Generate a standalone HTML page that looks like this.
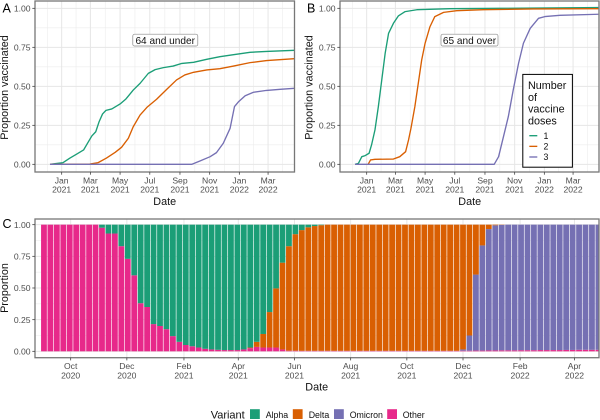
<!DOCTYPE html>
<html>
<head>
<meta charset="utf-8">
<style>
html,body{margin:0;padding:0;background:#fff;}
svg{display:block;font-family:"Liberation Sans",sans-serif;}
</style>
</head>
<body>
<svg id="fig" xmlns="http://www.w3.org/2000/svg" width="600" height="420" viewBox="0 0 600 420"></svg>
<script>
// ---- tick data ----
const lineTickDays = [0, 59, 120, 181, 243, 304, 365, 424];
const lineTickMonths = ["Jan", "Mar", "May", "Jul", "Sep", "Nov", "Jan", "Mar"];
const lineTickYears = ["2021", "2021", "2021", "2021", "2021", "2021", "2022", "2022"];
const barTickDays = [-92, -31, 31, 90, 151, 212, 273, 334, 396, 455];
const barTickMonths = ["Oct", "Dec", "Feb", "Apr", "Jun", "Aug", "Oct", "Dec", "Feb", "Apr"];
const barTickYears = ["2020", "2020", "2021", "2021", "2021", "2021", "2021", "2021", "2022", "2022"];
const yTicks = [0, 0.25, 0.5, 0.75, 1];
const yTickLabels = ["0.00", "0.25", "0.50", "0.75", "1.00"];
const yMinorTicks = [0.125, 0.375, 0.625, 0.875];

// ---- panel A (64 and under), days since 2021-01-01 ----
const a1Days = [-24, 3, 17, 31, 45, 55, 62, 70, 77, 84, 91, 103, 120, 132, 147, 161, 178, 192, 209, 229, 247, 271, 298, 325, 353, 387, 421, 478];
const a1Values = [0, 0.011, 0.04, 0.066, 0.092, 0.145, 0.182, 0.209, 0.274, 0.323, 0.346, 0.355, 0.387, 0.419, 0.476, 0.519, 0.583, 0.607, 0.62, 0.63, 0.647, 0.654, 0.673, 0.69, 0.703, 0.718, 0.724, 0.731];
const a2Days = [-24, 58, 75, 92, 110, 123, 137, 147, 161, 175, 195, 216, 236, 253, 271, 298, 325, 353, 387, 421, 478];
const a2Values = [0, 0.002, 0.011, 0.04, 0.077, 0.109, 0.167, 0.241, 0.316, 0.365, 0.417, 0.481, 0.541, 0.573, 0.59, 0.605, 0.613, 0.63, 0.652, 0.665, 0.677];
const a3Days = [-24, 267, 284, 305, 318, 332, 346, 355, 363, 377, 394, 421, 449, 478];
const a3Values = [0, 0, 0.021, 0.049, 0.075, 0.135, 0.231, 0.37, 0.4, 0.44, 0.462, 0.474, 0.481, 0.487];

// ---- panel B (65 and over) ----
const b1Days = [-24, -17, -10, -3, 5, 10, 17, 24, 31, 38, 45, 55, 65, 79, 103, 171, 274, 476];
const b1Values = [0, 0.006, 0.049, 0.056, 0.071, 0.124, 0.22, 0.37, 0.541, 0.712, 0.84, 0.904, 0.951, 0.979, 0.991, 0.998, 1.0, 1.005];
const b2Days = [3, 8, 17, 55, 68, 80, 86, 91, 99, 106, 113, 120, 130, 140, 158, 185, 240, 342, 476];
const b2Values = [0, 0.028, 0.032, 0.034, 0.049, 0.081, 0.156, 0.231, 0.37, 0.519, 0.669, 0.776, 0.882, 0.947, 0.974, 0.985, 0.991, 0.996, 0.998];
const b3Days = [-24, 262, 271, 281, 291, 301, 312, 322, 336, 353, 366, 397, 476];
const b3Values = [0, 0, 0.049, 0.177, 0.306, 0.476, 0.647, 0.776, 0.872, 0.936, 0.947, 0.955, 0.962];

// ---- panel C weekly variant proportions ----
const weekDays = [-121,-114,-107,-100,-93,-86,-79,-72,-65,-58,-51,-44,-37,-30,-23,-16,-9,-2,5,12,19,26,33,40,47,54,61,68,75,82,89,96,103,110,117,124,131,138,145,152,159,166,173,180,187,194,201,208,215,222,229,236,243,250,257,264,271,278,285,292,299,306,313,320,327,334,341,348,355,362,369,376,383,390,397,404,411,418,425,432,439,446,453,460,467,474,481];
const otherShare = [1,1,1,1,1,1,1,1,1,0.976,0.93,0.93,0.83,0.73,0.6,0.38,0.35,0.215,0.2,0.175,0.12,0.075,0.05,0.04,0.03,0.02,0.015,0.012,0.01,0.01,0.01,0.015,0.025,0.035,0.03,0.03,0.03,0.015,0.005,0.005,0.004,0.004,0.004,0.004,0.004,0.004,0.004,0.004,0.004,0.004,0.004,0.004,0.004,0.004,0.004,0.004,0.004,0.004,0.004,0.004,0.004,0.004,0.004,0.004,0.004,0.005,0.005,0.006,0.006,0.007,0.007,0.008,0.008,0.008,0.009,0.009,0.009,0.01,0.01,0.01,0.01,0.011,0.011,0.012,0.012,0.012,0.012];
const omicronShare = [0,0,0,0,0,0,0,0,0,0,0,0,0,0,0,0,0,0,0,0,0,0,0,0,0,0,0,0,0,0,0,0,0,0,0,0,0,0,0,0,0,0,0,0,0,0,0,0,0,0,0,0,0,0,0,0,0,0,0,0,0,0,0,0,0,0.01,0.12,0.6,0.83,0.958,0.988,0.99,0.992,0.992,0.991,0.991,0.991,0.99,0.99,0.99,0.99,0.989,0.989,0.988,0.988,0.988,0.988];
const deltaShare = [0,0,0,0,0,0,0,0,0,0,0,0,0,0,0,0,0,0,0,0,0,0,0,0,0,0,0,0,0,0,0,0,0.005,0.04,0.107,0.28,0.467,0.685,0.825,0.92,0.953,0.975,0.985,0.992,0.996,0.996,0.996,0.996,0.996,0.996,0.996,0.996,0.996,0.996,0.996,0.996,0.996,0.996,0.996,0.996,0.996,0.996,0.996,0.996,0.996,0.985,0.875,0.394,0.164,0.035,0.005,0.002,0,0,0,0,0,0,0,0,0,0,0,0,0,0,0];
const alphaShare = [0,0,0,0,0,0,0,0,0,0.024,0.07,0.07,0.17,0.27,0.4,0.62,0.65,0.785,0.8,0.825,0.88,0.925,0.95,0.96,0.97,0.98,0.985,0.988,0.99,0.99,0.99,0.985,0.97,0.925,0.863,0.69,0.503,0.3,0.17,0.075,0.043,0.021,0.011,0.004,0,0,0,0,0,0,0,0,0,0,0,0,0,0,0,0,0,0,0,0,0,0,0,0,0,0,0,0,0,0,0,0,0,0,0,0,0,0,0,0,0,0,0];

// ---- legend entries ----
const doseLabels = ["1", "2", "3"];
const variantNames = ["Alpha", "Delta", "Omicron", "Other"];

// ---- colours ----
const GREEN = "#1B9E77", ORANGE = "#D95F02", PURPLE = "#7570B3", PINK = "#E7298A";

const svg = document.getElementById("fig");
const NS = "http://www.w3.org/2000/svg";
function mk(tag, attrs, parent, text) {
  const el = document.createElementNS(NS, tag);
  for (const k in attrs) el.setAttribute(k, attrs[k]);
  if (text !== undefined) el.textContent = text;
  (parent || svg).appendChild(el);
  return el;
}
function label(name, x, y, str, size, fill, anchor, parent) {
  const el = mk("text", {x: x, y: y, "font-size": size, fill: fill, "text-anchor": anchor || "middle"}, parent, str);
  
  
  return el;
}

// ---- axis functions ----
const lineSlope = 0.4868;
const lineY = v => 164.33 - 156 * v;
const barX = d => 155.4 + 0.921 * d;
const barY = v => 351.33 - 126.67 * v;

function panelFrame(name, box, xMajor, xMinor, yFn) {
  const g = mk("g", {});
  
  
  mk("rect", {x: box.l, y: box.t, width: box.r - box.l, height: box.b - box.t, fill: "#fff"}, g);
  xMinor.forEach(x => mk("line", {x1: x, x2: x, y1: box.t, y2: box.b, stroke: "#ececec", "stroke-width": 0.6}, g));
  yMinorTicks.forEach(v => mk("line", {x1: box.l, x2: box.r, y1: yFn(v), y2: yFn(v), stroke: "#ececec", "stroke-width": 0.6}, g));
  xMajor.forEach(x => mk("line", {x1: x, x2: x, y1: box.t, y2: box.b, stroke: "#e6e6e6", "stroke-width": 1}, g));
  yTicks.forEach(v => mk("line", {x1: box.l, x2: box.r, y1: yFn(v), y2: yFn(v), stroke: "#e6e6e6", "stroke-width": 1}, g));
  const clip = mk("clipPath", {id: name + "-clip"});
  mk("rect", {x: box.l, y: box.t, width: box.r - box.l, height: box.b - box.t}, clip);
}
function panelBorder(name, box) {
  const el = mk("rect", {x: box.l, y: box.t, width: box.r - box.l, height: box.b - box.t, fill: "none", stroke: "#777", "stroke-width": 1.3});
  
  
}
function yAxis(name, box, yFn) {
  yTicks.forEach((v, i) => {
    const t = mk("line", {x1: box.l - 2.7, x2: box.l, y1: yFn(v), y2: yFn(v), stroke: "#444", "stroke-width": 0.8});
    
    
    label(name + '-y-tick-label', box.l - 4.4, yFn(v) + 3.1, yTickLabels[i], 8.6, "#4d4d4d", "end");
  });
}
function xAxis(name, box, xs, months, years, y1, y2) {
  xs.forEach((x, i) => {
    const t = mk("line", {x1: x, x2: x, y1: box.b, y2: box.b + 2.7, stroke: "#444", "stroke-width": 0.8});
    
    
    label(name + '-x-tick-month', x, y1, months[i], 8.6, "#4d4d4d");
    label(name + '-x-tick-year', x, y2, years[i], 8.6, "#4d4d4d");
  });
}
function minorOf(xs, l, r) {
  const out = [];
  for (let i = 0; i < xs.length - 1; i++) out.push((xs[i] + xs[i + 1]) / 2);
  const first = xs[0] - (xs[1] - xs[0]) / 2;
  const last = xs[xs.length - 1] + (xs[xs.length - 1] - xs[xs.length - 2]) / 2;
  if (first > l) out.push(first);
  if (last < r) out.push(last);
  return out;
}
function drawLine(name, panel, xFn, days, values, color) {
  const pts = days.map((d, i) => xFn(d).toFixed(2) + "," + lineY(values[i]).toFixed(2)).join(" ");
  const el = mk("polyline", {points: pts, fill: "none", stroke: color, "stroke-width": 1.35, "stroke-linejoin": "round", "clip-path": "url(#" + panel + "-clip)"});
  
  
}

// ---- panel A ----
const boxA = {l: 35, r: 294.5, t: 1, b: 172};
const xA = d => 61.67 + lineSlope * d;
const majorA = lineTickDays.map(xA);
panelFrame("panel-a", boxA, majorA, minorOf(majorA, boxA.l, boxA.r), lineY);
drawLine("line-a-dose-1", "panel-a", xA, a1Days, a1Values, GREEN);
drawLine("line-a-dose-2", "panel-a", xA, a2Days, a2Values, ORANGE);
drawLine("line-a-dose-3", "panel-a", xA, a3Days, a3Values, PURPLE);
panelBorder("panel-a", boxA);
yAxis("panel-a", boxA, lineY);
xAxis("panel-a", boxA, majorA, lineTickMonths, lineTickYears, 183.4, 192.6);
label("panel-a-x-axis-title", 164.7, 205, "Date", 10.8, "#111");
const titleA = label("panel-a-y-axis-title", 0, 0, "Proportion vaccinated", 10.8, "#111");
titleA.setAttribute("transform", "translate(8,87.5) rotate(-90)");
label("panel-a-tag", 2.5, 12.5, "A", 12.5, "#000", "start");

const boxALabel = mk("rect", {x: 132.8, y: 34.2, width: 65, height: 11.8, rx: 1.8, fill: "#fff", stroke: "#8a8a8a", "stroke-width": 0.7});


label("age-label-a", 165.2, 43.8, "64 and under", 10.1, "#111");

// ---- panel B ----
const boxB = {l: 340, r: 599, t: 1, b: 172};
const xB = d => 366.67 + lineSlope * d;
const majorB = lineTickDays.map(xB);
panelFrame("panel-b", boxB, majorB, minorOf(majorB, boxB.l, boxB.r), lineY);
drawLine("line-b-dose-1", "panel-b", xB, b1Days, b1Values, GREEN);
drawLine("line-b-dose-2", "panel-b", xB, b2Days, b2Values, ORANGE);
drawLine("line-b-dose-3", "panel-b", xB, b3Days, b3Values, PURPLE);
panelBorder("panel-b", boxB);
yAxis("panel-b", boxB, lineY);
xAxis("panel-b", boxB, majorB, lineTickMonths, lineTickYears, 183.4, 192.6);
label("panel-b-x-axis-title", 469.7, 205, "Date", 10.8, "#111");
const titleB = label("panel-b-y-axis-title", 0, 0, "Proportion vaccinated", 10.8, "#111");
titleB.setAttribute("transform", "translate(312.5,87.5) rotate(-90)");
label("panel-b-tag", 307, 12.5, "B", 12.5, "#000", "start");

const boxBLabel = mk("rect", {x: 441, y: 34.2, width: 57, height: 11.8, rx: 1.8, fill: "#fff", stroke: "#8a8a8a", "stroke-width": 0.7});


label("age-label-b", 469.5, 43.8, "65 and over", 10.1, "#111");

// ---- dose legend ----
const doseLegend = mk("rect", {x: 522.8, y: 74.4, width: 49.6, height: 92.8, fill: "#fff", stroke: "#000", "stroke-width": 1});


["Number", "of", "vaccine", "doses"].forEach((w, i) => {
  label("dose-legend-title-line", 528, 89 + i * 11.8, w, 10.8, "#111", "start");
});
const doseColors = [GREEN, ORANGE, PURPLE];
doseLabels.forEach((lab, i) => {
  const y = 135.7 + i * 10.65;
  const key = mk("line", {x1: 529.3, x2: 537.3, y1: y, y2: y, stroke: doseColors[i], "stroke-width": 1.35});
  
  
  label("dose-legend-label", 543.5, y + 3.2, lab, 8.8, "#111", "start");
});

// ---- panel C ----
const boxC = {l: 35, r: 599, t: 219, b: 357.7};
const majorC = barTickDays.map(barX);
panelFrame("panel-c", boxC, majorC, [], barY);
const barsGroup = mk("g", {"clip-path": "url(#panel-c-clip)"});


const barWidth = 0.9 * 7 * 0.921;
const stackSeries = [["other", otherShare, PINK], ["omicron", omicronShare, PURPLE], ["delta", deltaShare, ORANGE], ["alpha", alphaShare, GREEN]];
weekDays.forEach((d, i) => {
  let cum = 0;
  stackSeries.forEach(s => {
    const v = s[1][i];
    if (v > 0) {
      const r = mk("rect", {x: (barX(d) - barWidth / 2).toFixed(2), y: barY(cum + v).toFixed(2), width: barWidth.toFixed(2), height: (barY(cum) - barY(cum + v)).toFixed(2), fill: s[2]}, barsGroup);
      
      
    }
    cum += v;
  });
});
panelBorder("panel-c", boxC);
yAxis("panel-c", boxC, barY);
xAxis("panel-c", boxC, majorC, barTickMonths, barTickYears, 369, 378.4);
label("panel-c-x-axis-title", 316.7, 390.5, "Date", 10.8, "#111");
const titleC = label("panel-c-y-axis-title", 0, 0, "Proportion", 10.8, "#111");
titleC.setAttribute("transform", "translate(8,288) rotate(-90)");
label("panel-c-tag", 2.5, 228, "C", 12.5, "#000", "start");

// ---- variant legend ----
label("variant-legend-title", 210.7, 418.5, "Variant", 11, "#111", "start");
const keyX = [250, 292.8, 334, 387.2];
const labX = [265.7, 308.7, 349.7, 402.7];
const keyColors = [GREEN, ORANGE, PURPLE, PINK];
variantNames.forEach((n, i) => {
  const k = mk("rect", {x: keyX[i], y: 409.2, width: 9.8, height: 9.8, fill: keyColors[i]});
  
  
  label("variant-legend-label", labX[i], 417.8, n, 8.8, "#111", "start");
});
</script>
</body>
</html>
